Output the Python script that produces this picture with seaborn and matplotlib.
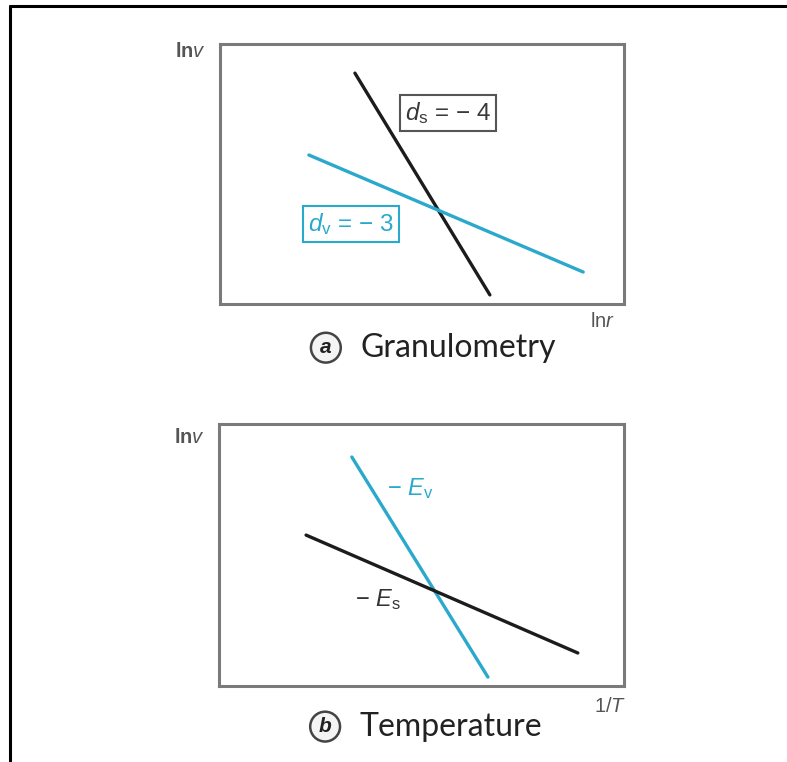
import matplotlib
matplotlib.use("Agg")
import matplotlib.pyplot as plt
import seaborn as sns
import pandas as pd
from matplotlib.lines import Line2D

sns.set_theme(style="white")
plt.rcParams['font.family'] = ['Liberation Sans', 'DejaVu Sans']
plt.rcParams['mathtext.fontset'] = 'custom'
plt.rcParams['mathtext.rm'] = 'Liberation Sans'
plt.rcParams['mathtext.it'] = 'Liberation Sans:italic'
plt.rcParams['mathtext.bf'] = 'Liberation Sans:bold'

# ---- data (unitless schematic coordinates, 0..10) ----
gran_x_s = [3.34, 6.68]
gran_y_s = [8.88, 0.35]
gran_x_v = [2.20, 8.99]
gran_y_v = [5.73, 1.23]

temp_x_v = [3.28, 6.64]
temp_y_v = [8.74, 0.34]
temp_x_s = [2.15, 8.86]
temp_y_s = [5.76, 1.26]

BLACK = "#1c1c1c"
CYAN = "#2aa9cc"
FRAME = "#7a7a7a"
TXT = "#555555"

fig = plt.figure(figsize=(7.87, 7.62), dpi=100)
fig.patch.set_facecolor("white")

# outer border (top and left visible)
fig.add_artist(Line2D([10/787, 10/787], [0, 1 - 6/762], transform=fig.transFigure,
                      color="black", lw=2.2))
fig.add_artist(Line2D([10/787, 1], [1 - 6/762, 1 - 6/762], transform=fig.transFigure,
                      color="black", lw=2.2))

ax1 = fig.add_axes([220/787, 1 - 304/762, 404/787, 260/762])
ax2 = fig.add_axes([219/787, 1 - 686/762, 405/787, 262/762])

df_a = pd.DataFrame({
    "x": gran_x_s + gran_x_v,
    "y": gran_y_s + gran_y_v,
    "series": ["s", "s", "v", "v"],
})
df_b = pd.DataFrame({
    "x": temp_x_v + temp_x_s,
    "y": temp_y_v + temp_y_s,
    "series": ["v", "v", "s", "s"],
})

pal = {"s": BLACK, "v": CYAN}
sns.lineplot(data=df_a, x="x", y="y", hue="series", palette=pal, ax=ax1,
             legend=False, lw=2.4, sort=False, estimator=None)
sns.lineplot(data=df_b, x="x", y="y", hue="series", palette=pal, ax=ax2,
             legend=False, lw=2.4, sort=False, estimator=None)

for ax in (ax1, ax2):
    ax.set_xlim(0, 10)
    ax.set_ylim(0, 10)
    ax.set_xticks([])
    ax.set_yticks([])
    ax.set_xlabel("")
    ax.set_ylabel("")
    for sp in ax.spines.values():
        sp.set_color(FRAME)
        sp.set_linewidth(2.2)

# panel a labels
ax1.text(5.64, 7.35, r"$d_{\mathrm{s}}$ = − 4", ha="center", va="center",
         fontsize=17.5, color="#3a3a3a",
         bbox=dict(boxstyle="square,pad=0.2", fc="white", ec="#555555", lw=1.5))
ax1.text(3.24, 3.08, r"$d_{\mathrm{v}}$ = − 3", ha="center", va="center",
         fontsize=17.5, color=CYAN,
         bbox=dict(boxstyle="square,pad=0.2", fc="white", ec=CYAN, lw=1.5))

# panel b labels
ax2.text(4.72, 7.55, r"− $E_{\mathrm{v}}$", ha="center", va="center",
         fontsize=17, color=CYAN)
ax2.text(3.93, 3.3, r"− $E_{\mathrm{s}}$", ha="center", va="center",
         fontsize=17, color="#333333")

# axis labels
ax1.text(-0.035, 0.97, r"ln$\mathit{v}$", transform=ax1.transAxes, ha="right",
         va="center", fontsize=14.5, color=TXT, fontweight="bold")
ax2.text(-0.035, 0.95, r"ln$\mathit{v}$", transform=ax2.transAxes, ha="right",
         va="center", fontsize=14.5, color=TXT, fontweight="bold")
ax1.text(0.946, -0.068, r"ln$\mathit{r}$", transform=ax1.transAxes, ha="center",
         va="center", fontsize=14.5, color=TXT)
ax2.text(0.965, -0.078, r"1/$\mathit{T}$", transform=ax2.transAxes, ha="center",
         va="center", fontsize=14.5, color=TXT)

# captions
for ax, letter, title, yy in ((ax1, "a", "Granulometry", -0.168),
                              (ax2, "b", "Temperature", -0.155)):
    ax.text(0.262, yy, letter, transform=ax.transAxes,
            ha="center", va="center", fontsize=15, color="#222222",
            fontweight="bold", fontstyle="italic",
            bbox=dict(boxstyle="circle,pad=0.26", fc="#f4f4f4", ec="#444444", lw=1.8))
    ax.text(0.347, yy, title, transform=ax.transAxes, ha="left", va="center",
            fontsize=23, color="#222222", family=["Lato", "DejaVu Sans"])

fig.savefig("out.png", dpi=100, facecolor="white")
